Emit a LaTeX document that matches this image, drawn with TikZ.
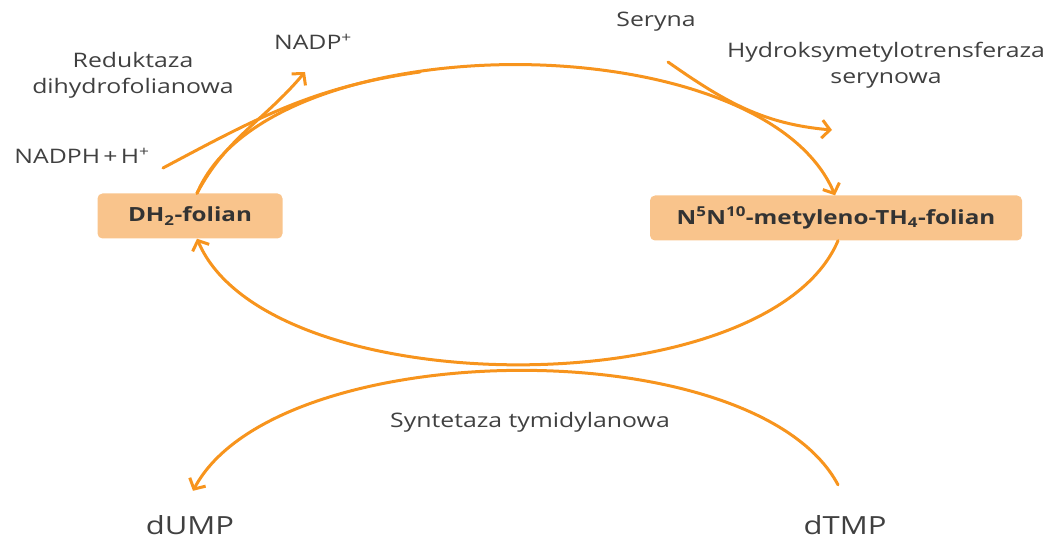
\documentclass[tikz,border=0pt]{standalone}
\usepackage{fontspec}
\setmainfont{Open Sans}[FakeStretch=1.24]
\usepackage{tikz}
\usetikzlibrary{arrows.meta,positioning}
\definecolor{ink}{HTML}{404040}
\definecolor{inkdark}{HTML}{333333}
\definecolor{flowline}{HTML}{F7941D}
\definecolor{boxfill}{HTML}{F9C48C}

\begin{document}
\begin{tikzpicture}[x=1pt,y=1pt,
  compound/.style={rounded corners=5pt, fill=boxfill, text=inkdark, font=\fontsize{19.5}{22}\selectfont\bfseries, minimum height=45pt, inner sep=0pt},
  lbl/.style={text=ink, font=\fontsize{20}{26}\selectfont, align=center, inner sep=0pt},
  big/.style={text=ink, font=\fontsize{25}{30}\selectfont, inner sep=0pt, anchor=base},
  flow/.style={draw=flowline, line width=3pt, line cap=round},
  tip/.style={-{Straight Barb[length=8pt,width=18pt]}}]
  \useasboundingbox (0,0) rectangle (1048,538);

  % the two folate forms
  \node[compound, minimum width=185pt] (dh) at (190,322) {DH\textsubscript{2}-folian};
  \node[compound, minimum width=372pt] (mtf) at (836,320) {N\textsuperscript{5}N\textsuperscript{10}-metyleno-TH\textsubscript{4}-folian};

  % labels
  \node[lbl] (redukt) at (133,463) {Reduktaza\\dihydrofolianowa};
  \node[lbl] (nadp) at (313,496) {NADP\textsuperscript{+}};
  \node[lbl] (nadph) at (82,382) {NADPH\,+\,H\textsuperscript{+}};
  \node[lbl] (seryna) at (656,516) {Seryna};
  \node[lbl] (hydrox) at (886,473) {Hydroksymetylotrensferaza\\serynowa};
  \node[lbl] (syntet) at (530,116) {Syntetaza tymidylanowa};
  \node[big] (dump) at (190,4) {dUMP};
  \node[big] (dtmp) at (845,4) {dTMP};

  \coordinate (nadptip) at (305,466);
  \coordinate (nadphin) at (163,370);
  \coordinate (nadphjoin) at (420,466);
  \coordinate (seryin) at (668,476);
  \coordinate (serytip) at (832,408);

  % folate cycle
  \draw[flow, tip] ([xshift=7pt]dh.north) to[out=67, in=113, looseness=0.75] ([xshift=-1pt]mtf.north);
  \draw[flow, tip] ([xshift=2pt]mtf.south) to[out=-113, in=-67, looseness=0.72] ([xshift=7pt]dh.south);

  % side reactions
  \draw[flow, tip] ([xshift=7pt]dh.north) to[out=62, in=230] (nadptip);
  \draw[flow] (nadphin) to[out=28, in=188] (nadphjoin);
  \draw[flow, tip] (seryin) to[out=-35, in=175] (serytip);
  \draw[flow, tip] ([shift={(-7pt,30pt)}]dtmp.north) to[out=118, in=62, looseness=0.7] ([shift={(3pt,24pt)}]dump.north);
\end{tikzpicture}
\end{document}
